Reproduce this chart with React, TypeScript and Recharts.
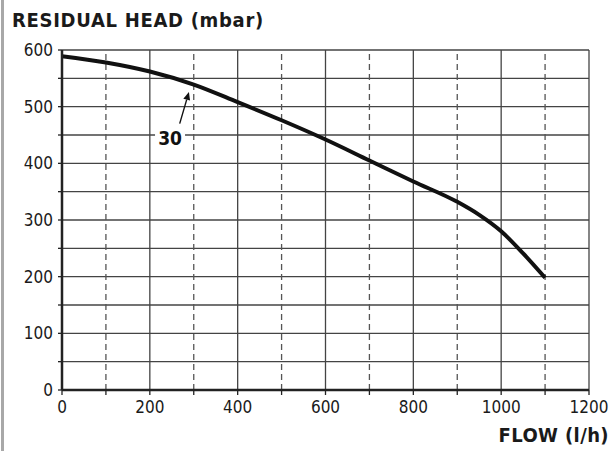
import { Line, LineChart, ReferenceDot, ReferenceLine, XAxis, YAxis } from 'recharts';

const flow = [0, 100, 200, 300, 400, 500, 600, 700, 800, 900, 950, 1000, 1050, 1100];
const head = [589, 578, 562, 539, 508, 476, 442, 405, 368, 332, 309, 280, 241, 198];

const xTicks = [0, 100, 200, 300, 400, 500, 600, 700, 800, 900, 1000, 1100, 1200];
const yTicks = [0, 50, 100, 150, 200, 250, 300, 350, 400, 450, 500, 550, 600];
const solidX = [200, 400, 600, 800, 1000, 1200];
const dashedX = [100, 300, 500, 700, 900, 1100];
const gridY = [50, 100, 150, 200, 250, 300, 350, 400, 450, 500, 550, 600];

const curveLabel = '30';
const labelPos = { x: 246, y: 444 };
const arrowFrom = { x: 268, y: 470 };
const arrowTo = { x: 289, y: 526 };

const data = flow.map((f, i) => ({ flow: f, head: head[i] }));

const FONT = '"DejaVu Sans Condensed", "DejaVu Sans", sans-serif';

function Arrow(props: any) {
  const { x1, y1, x2, y2 } = props;
  const ang = Math.atan2(y2 - y1, x2 - x1);
  const len = 8;
  const w = 3.5;
  const bx = x2 - len * Math.cos(ang);
  const by = y2 - len * Math.sin(ang);
  const px = -Math.sin(ang) * w;
  const py = Math.cos(ang) * w;
  return (
    <g>
      <line x1={x1} y1={y1} x2={bx} y2={by} stroke="#111" strokeWidth={1.4} />
      <polygon points={`${x2},${y2} ${bx + px},${by + py} ${bx - px},${by - py}`} fill="#111" />
    </g>
  );
}

function CurveTag(props: any) {
  const { cx, cy } = props;
  return (
    <g>
      <rect x={cx - 15} y={cy - 12} width={30} height={24} fill="#fff" />
      <text x={cx} y={cy + 7} textAnchor="middle" fontFamily={FONT} fontWeight="bold" fontSize={19} fill="#111">
        {curveLabel}
      </text>
    </g>
  );
}

export default function App() {
  return (
    <div style={{ position: 'fixed', left: 0, top: 0, width: 612, height: 451, background: '#fff', fontFamily: FONT, overflow: 'hidden' }}>
      <div style={{ position: 'absolute', left: 12, top: 8, fontSize: 20, fontWeight: 'bold', color: '#1a1a1a', letterSpacing: 0.7 }}>
        RESIDUAL HEAD (mbar)
      </div>
      <div style={{ position: 'absolute', right: 3, top: 423, fontSize: 20, fontWeight: 'bold', color: '#1a1a1a', letterSpacing: 0.4 }}>
        FLOW (l/h)
      </div>
      <LineChart width={612} height={451} data={data} margin={{ top: 50, right: 23, bottom: 31, left: 22 }}>
        {gridY.map((v) => (
          <ReferenceLine key={`h${v}`} y={v} stroke="#444" strokeWidth={1.3} />
        ))}
        {dashedX.map((v) => (
          <ReferenceLine key={`d${v}`} x={v} stroke="#555" strokeWidth={1.3} strokeDasharray="6 4" />
        ))}
        {solidX.map((v) => (
          <ReferenceLine key={`s${v}`} x={v} stroke="#444" strokeWidth={1.3} />
        ))}
        <XAxis
          dataKey="flow"
          type="number"
          domain={[0, 1200]}
          ticks={xTicks}
          interval={0}
          height={30}
          tickSize={5}
          tickMargin={6}
          tickFormatter={(v: number) => (v % 200 === 0 ? String(v) : '')}
          tick={{ fill: '#1a1a1a', fontSize: 17, fontFamily: FONT }}
          axisLine={{ stroke: '#222', strokeWidth: 2.5 }}
          tickLine={{ stroke: '#222', strokeWidth: 1.3 }}
        />
        <YAxis
          type="number"
          domain={[0, 600]}
          ticks={yTicks}
          interval={0}
          width={40}
          tickSize={4}
          tickMargin={5}
          tickFormatter={(v: number) => (v % 100 === 0 ? String(v) : '')}
          tick={{ fill: '#1a1a1a', fontSize: 17, fontFamily: FONT }}
          axisLine={{ stroke: '#222', strokeWidth: 2.5 }}
          tickLine={{ stroke: '#222', strokeWidth: 1.3 }}
        />
        <Line
          type="monotone"
          dataKey="head"
          stroke="#111"
          strokeWidth={4}
          dot={false}
          activeDot={false}
          isAnimationActive={false}
        />
        <ReferenceLine
          segment={[arrowFrom, arrowTo]}
          shape={(p: any) => <Arrow {...p} />}
        />
        <ReferenceDot x={labelPos.x} y={labelPos.y} r={0} shape={(p: any) => <CurveTag {...p} />} />
      </LineChart>
      <div style={{ position: 'absolute', left: 1, top: 0, width: 3, height: 451, background: '#a8a8a8', zIndex: 2 }} />
    </div>
  );
}
